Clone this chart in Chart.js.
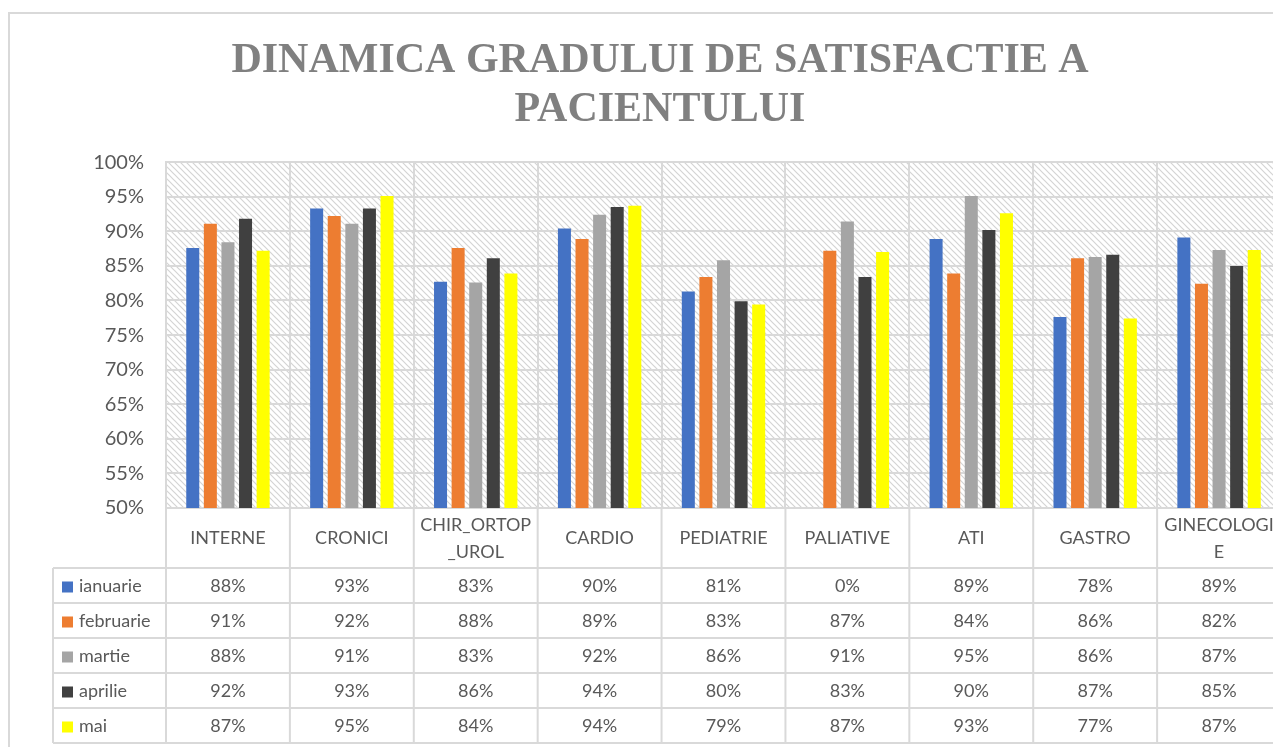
<!DOCTYPE html>
<html>
<head>
<meta charset="utf-8">
<script src="https://cdn.jsdelivr.net/npm/chart.js@4"></script>
<style>
  html, body { margin: 0; padding: 0; background: #fff; overflow: hidden; }
</style>
</head>
<body>
<canvas id="bar-chart" width="1300" height="747"></canvas>
<script>
// categories and months
const categories = ["INTERNE", "CRONICI", "CHIR_ORTOP_UROL", "CARDIO", "PEDIATRIE", "PALIATIVE", "ATI", "GASTRO", "GINECOLOGIE"];
const months = ["ianuarie", "februarie", "martie", "aprilie", "mai"];

// satisfaction per month (%)
const ianuarie  = [87.6, 93.3, 82.7, 90.4, 81.3, 0,    88.9, 77.6, 89.1];
const februarie = [91.1, 92.2, 87.6, 88.9, 83.4, 87.2, 83.9, 86.1, 82.4];
const martie    = [88.4, 91.1, 82.6, 92.4, 85.8, 91.4, 95.1, 86.3, 87.3];
const aprilie   = [91.8, 93.3, 86.1, 93.5, 79.9, 83.4, 90.2, 86.6, 85.0];
const mai       = [87.2, 95.1, 83.9, 93.7, 79.4, 87.0, 92.6, 77.4, 87.3];

const seriesValues = [ianuarie, februarie, martie, aprilie, mai];
const seriesColors = ["#4472C4", "#ED7D31", "#A5A5A5", "#404040", "#FFFF00"];

const gridColor = "#d9d9d9";
const textColor = "#595959";

// split long category names the way the sheet wraps them
const wrapLabel = (s) => {
  const out = [];
  for (let i = 0; i < s.length; i += 10) out.push(s.slice(i, i + 10));
  return out;
};

// hatched plot background
const makeHatch = () => {
  const c = document.createElement("canvas");
  c.width = 6;
  c.height = 6;
  const g = c.getContext("2d");
  g.fillStyle = "#ffffff";
  g.fillRect(0, 0, 6, 6);
  g.strokeStyle = "#d4d4d4";
  g.lineWidth = 1.2;
  g.beginPath();
  g.moveTo(-1, -1); g.lineTo(7, 7);
  g.moveTo(-1, 5); g.lineTo(1, 7);
  g.moveTo(5, -1); g.lineTo(7, 1);
  g.stroke();
  return g.createPattern(c, "repeat");
};

const backgroundPlugin = {
  id: "hatchBackground",
  beforeDraw(chart) {
    const { ctx, chartArea } = chart;
    ctx.save();
    // outer chart border
    ctx.strokeStyle = gridColor;
    ctx.lineWidth = 2;
    ctx.strokeRect(9, 13, 3000, 3000);
    ctx.fillStyle = makeHatch();
    ctx.fillRect(chartArea.left, chartArea.top, chartArea.right - chartArea.left, chartArea.bottom - chartArea.top);
    ctx.restore();
  },
};

// data table under the plot
const headerH = 60;
const rowH = 35;
const tableLeft = 53;

const dataTablePlugin = {
  id: "dataTable",
  afterDraw(chart) {
    const { ctx, chartArea } = chart;
    const xScale = chart.scales.x;
    const n = categories.length;
    const colW = (chartArea.right - chartArea.left) / n;
    const top = chartArea.bottom;
    const rowsTop = top + headerH;
    const bottom = rowsTop + rowH * months.length;

    ctx.save();
    ctx.strokeStyle = gridColor;
    ctx.lineWidth = 2;
    ctx.beginPath();
    // column lines
    for (let i = 0; i <= n; i++) {
      const x = chartArea.left + i * colW;
      ctx.moveTo(x, top);
      ctx.lineTo(x, bottom);
    }
    ctx.moveTo(tableLeft, rowsTop);
    ctx.lineTo(tableLeft, bottom);
    // row lines
    for (let r = 0; r <= months.length; r++) {
      const y = rowsTop + r * rowH;
      ctx.moveTo(tableLeft, y);
      ctx.lineTo(chartArea.right, y);
    }
    ctx.stroke();

    ctx.font = "18px Lato";
    ctx.textBaseline = "middle";
    months.forEach((m, r) => {
      const yc = rowsTop + r * rowH + rowH / 2 + 1;
      ctx.fillStyle = seriesColors[r];
      ctx.fillRect(62, yc - 5, 11, 11);
      ctx.fillStyle = textColor;
      ctx.textAlign = "left";
      ctx.fillText(m, 79, yc);
      ctx.textAlign = "center";
      seriesValues[r].forEach((v, i) => {
        ctx.fillText(Math.round(v) + "%", xScale.getPixelForValue(i), yc);
      });
    });
    ctx.restore();
  },
};

const ctx = document.getElementById("bar-chart");

new Chart(ctx, {
  type: "bar",
  data: {
    labels: categories,
    datasets: months.map((m, i) => ({
      label: m,
      data: seriesValues[i],
      backgroundColor: seriesColors[i],
      borderWidth: 0,
      categoryPercentage: 0.71,
      barPercentage: 0.74,
    })),
  },
  options: {
    responsive: false,
    animation: false,
    layout: {
      padding: { left: 39, right: 19, top: 0, bottom: 0 },
    },
    plugins: {
      legend: { display: false },
      tooltip: { enabled: false },
      title: {
        display: true,
        text: ["DINAMICA GRADULUI DE SATISFACTIE A", "PACIENTULUI"],
        color: "#808080",
        font: { family: "Liberation Serif", size: 42, weight: "bold", lineHeight: 1.18 },
        padding: { top: 36, bottom: 27 },
      },
    },
    scales: {
      y: {
        min: 50,
        max: 100,
        ticks: {
          stepSize: 5,
          color: textColor,
          padding: 22,
          font: { family: "Lato", size: 20 },
          callback: (v) => v + "%",
        },
        grid: { color: gridColor, lineWidth: 2, drawTicks: false },
        border: { color: gridColor, width: 2 },
        afterFit: (scale) => { scale.width = 127; },
      },
      x: {
        ticks: {
          color: textColor,
          padding: 17,
          maxRotation: 0,
          autoSkip: false,
          crossAlign: "center",
          font: { family: "Lato", size: 18, lineHeight: 1.5 },
          callback: (v, i) => wrapLabel(categories[i]),
        },
        grid: { color: gridColor, lineWidth: 2, drawTicks: false },
        border: { color: gridColor, width: 2 },
        afterFit: (scale) => { scale.height = 239; },
      },
    },
  },
  plugins: [backgroundPlugin, dataTablePlugin],
});
</script>
</body>
</html>
